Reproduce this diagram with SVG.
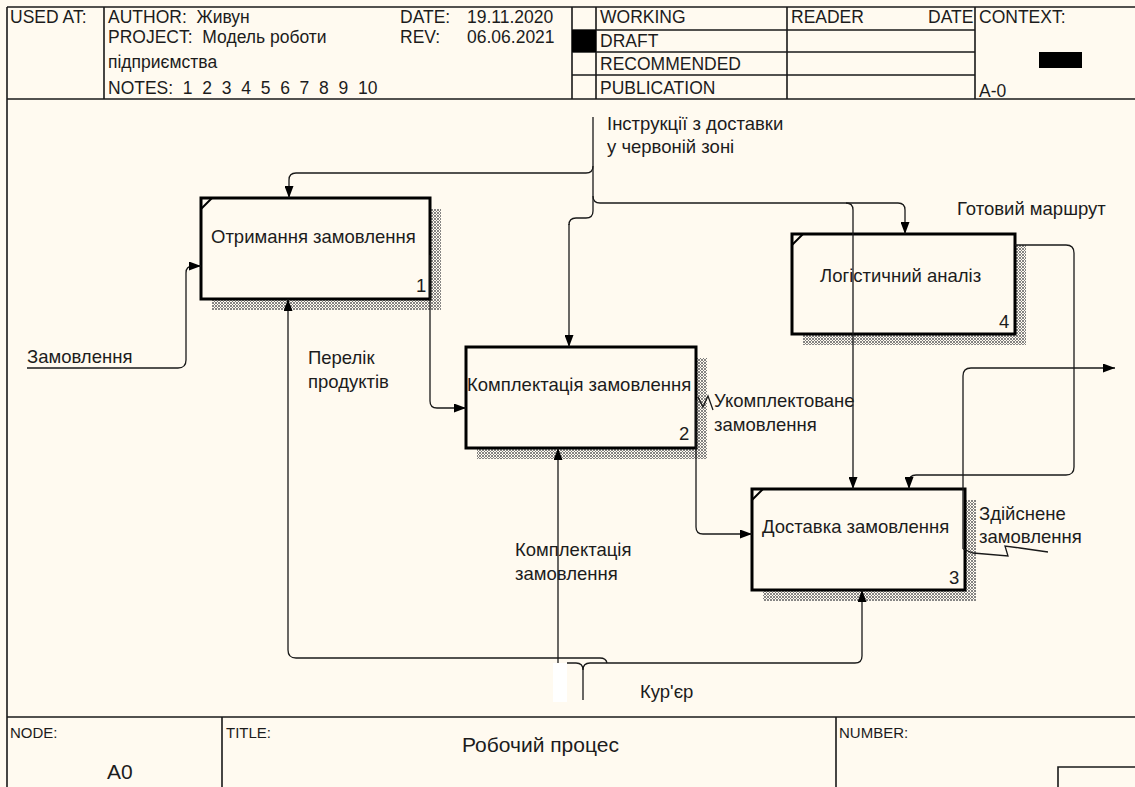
<svg xmlns="http://www.w3.org/2000/svg" width="1135" height="787" viewBox="0 0 1135 787">
<style>
text{font-family:"Liberation Sans",Arial,sans-serif;fill:#1c1c1c}
.h{font-size:17.5px}
.lb{font-size:18.5px}
.ft{font-size:15px}
.frame{stroke:#1a1a1a;stroke-width:1.6;fill:none}
.box{fill:#fffaf0;stroke:#000;stroke-width:3}
.sh{fill:url(#hatch)}
.cn{stroke:#1a1a1a;stroke-width:1.3;fill:none}
.ar{marker-end:url(#arr)}
.corner{stroke:#000;stroke-width:2}
</style>
<defs>
<pattern id="hatch" width="3" height="3" patternUnits="userSpaceOnUse">
<rect width="3" height="3" fill="#fffaf0"/>
<path d="M0,0 L3,3 M3,0 L0,3" stroke="#777" stroke-width="0.9"/>
</pattern>
<marker id="arr" markerUnits="userSpaceOnUse" markerWidth="12" markerHeight="9" refX="12" refY="4.5" orient="auto">
<path d="M0,0 L12,4.5 L0,9 z" fill="#000"/>
</marker>
</defs>
<rect width="1135" height="787" fill="#fffaf0"/>

<g id="header">
<path class="frame" d="M7,7 H1135 M7,7 V787 M7,99 H1135 M104,7 V99 M572,7 V99 M596,7 V99 M787,7 V99 M975,7 V99 M572,30 H975 M572,52 H975 M572,75 H975"/>
<rect x="572" y="30" width="24" height="22" fill="#000"/>
<rect x="1039" y="52" width="43" height="16" fill="#000"/>
<text class="h" x="10" y="23">USED AT:</text>
<text class="h" x="108" y="23" xml:space="preserve">AUTHOR:  Живун</text>
<text class="h" x="108" y="43" xml:space="preserve">PROJECT:  Модель роботи</text>
<text class="h" x="108" y="68">підприємства</text>
<text class="h" x="108" y="94" xml:space="preserve">NOTES:  1  2  3  4  5  6  7  8  9  10</text>
<text class="h" x="400" y="23">DATE:</text>
<text class="h" x="467" y="23">19.11.2020</text>
<text class="h" x="400" y="43">REV:</text>
<text class="h" x="467" y="43">06.06.2021</text>
<text class="h" x="600" y="23">WORKING</text>
<text class="h" x="600" y="47">DRAFT</text>
<text class="h" x="600" y="70">RECOMMENDED</text>
<text class="h" x="600" y="94">PUBLICATION</text>
<text class="h" x="791" y="23">READER</text>
<text class="h" x="928" y="23">DATE</text>
<text class="h" x="979" y="23">CONTEXT:</text>
<text class="h" x="979" y="97">A-0</text>
</g>

<g id="footer">
<path class="frame" d="M7,717 H1135 M222,717 V787 M836,717 V787 M1058,787 V767 H1135"/>
<text class="ft" x="10" y="738">NODE:</text>
<text x="107" y="779" style="font-size:21px">A0</text>
<text class="ft" x="226" y="738">TITLE:</text>
<text x="462" y="752" style="font-size:21px">Робочий процес</text>
<text class="ft" x="839" y="738">NUMBER:</text>
</g>

<g id="node1">
<rect class="sh" x="212" y="209" width="229" height="101"/>
<rect class="box" x="201" y="198" width="229" height="101"/>
<line class="corner" x1="201" y1="209" x2="212" y2="198"/>
<text class="lb" x="211" y="243">Отримання замовлення</text>
<text class="lb" x="416" y="292">1</text>
</g>

<g id="node2">
<rect class="sh" x="477" y="358" width="230" height="101"/>
<rect class="box" x="466" y="347" width="230" height="101"/>
<text class="lb" x="467" y="391">Комплектація замовлення</text>
<text class="lb" x="679" y="440">2</text>
</g>

<g id="node4">
<rect class="sh" x="803" y="245" width="223" height="100"/>
<rect class="box" x="792" y="234" width="223" height="100"/>
<line class="corner" x1="792" y1="245" x2="803" y2="234"/>
<text class="lb" x="820" y="282">Логістичний аналіз</text>
<text class="lb" x="999" y="328">4</text>
</g>

<g id="node3">
<rect class="sh" x="763" y="500" width="213" height="101"/>
<rect class="box" x="752" y="489" width="213" height="101"/>
<line class="corner" x1="752" y1="500" x2="763" y2="489"/>
<text class="lb" x="762" y="533">Доставка замовлення</text>
<text class="lb" x="949" y="584">3</text>
</g>

<g id="connectors">
<path class="cn ar" d="M27,368 H178 Q186,368 186,360 V273 Q186,266 193,266 H201"/>
<path class="cn" d="M593,117 V211 Q593,218 586,218 H576 Q569,218 569,225"/>
<path class="cn ar" d="M569,224 V347"/>
<path class="cn ar" d="M593,166 Q593,173 586,173 H296 Q289,173 289,180 V198"/>
<path class="cn ar" d="M593,196 Q593,203 600,203 H898 Q905,203 905,210 V234"/>
<path class="cn ar" d="M846,203 Q853,203 853,210 V489"/>
<path class="cn ar" d="M430,255 V401 Q430,408 437,408 H466"/>
<path class="cn ar" d="M696,400 V527 Q696,534 703,534 H752"/>
<path class="cn ar" d="M1015,245 H1066 Q1074,245 1074,253 V467 Q1074,475 1066,475 H916 Q909,475 909,482 V489"/>
<path class="cn ar" d="M963,549 V376 Q963,368 971,368 H1115"/>
<path class="cn ar" d="M600,658 H296 Q288,658 288,650 V299"/>
<path class="cn" d="M600,658 Q606,658 607,663"/>
<path class="cn ar" d="M558,700 V448"/>
<path class="cn ar" d="M583,700 V670 Q583,663 590,663 H855 Q862,663 862,656 V590"/>
<path class="cn" d="M583,670 Q583,663 576,663 H567"/>
<rect x="553" y="663" width="14" height="39" fill="#fff"/>
<polyline class="cn" points="698,397 703,407 708,396 713,410"/>
<polyline class="cn" points="963,549 973,553 1008,556 1005,546 1020,548 1048,552"/>
<text class="lb" x="27" y="363">Замовлення</text>
<text class="lb" x="308" y="364">Перелік</text>
<text class="lb" x="308" y="388">продуктів</text>
<text class="lb" x="607" y="130">Інструкції з доставки</text>
<text class="lb" x="607" y="153">у червоній зоні</text>
<text class="lb" x="957" y="215">Готовий маршрут</text>
<text class="lb" x="714" y="407">Укомплектоване</text>
<text class="lb" x="714" y="431">замовлення</text>
<text class="lb" x="979" y="520">Здійснене</text>
<text class="lb" x="979" y="543">замовлення</text>
<text class="lb" x="515" y="556">Комплектація</text>
<text class="lb" x="515" y="580">замовлення</text>
<text class="lb" x="640" y="698">Кур'єр</text>
</g>
</svg>
